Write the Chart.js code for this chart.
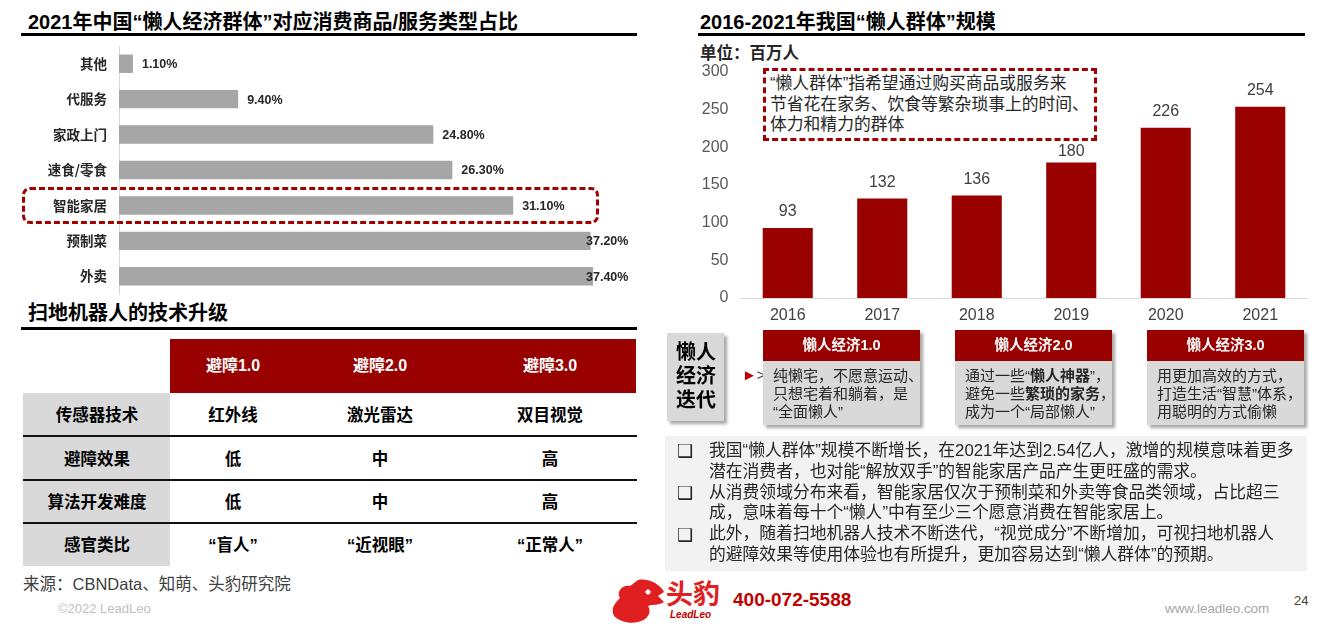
<!DOCTYPE html>
<html><head><meta charset="utf-8">
<script src="https://cdn.jsdelivr.net/npm/chart.js@4.4.0/dist/chart.umd.min.js"></script>
<style>
body{margin:0;width:1335px;height:626px;background:#fff;position:relative;overflow:hidden;font-family:"Liberation Sans","Noto Sans CJK SC",sans-serif;color:#262626;}
.a{position:absolute;white-space:nowrap;}
.title{font-size:20px;font-weight:bold;color:#000;line-height:20px;}
.rule{position:absolute;height:3px;background:#000;}
.th{position:absolute;color:#fff;font-weight:bold;font-size:16px;line-height:20px;text-align:center;transform:translateX(-50%);white-space:nowrap;}
.td{position:absolute;font-weight:bold;font-size:16.5px;line-height:20px;text-align:center;transform:translateX(-50%);color:#000;white-space:nowrap;}
.hl{position:absolute;left:23px;width:614px;height:2px;background:#111;}
.card{position:absolute;width:157px;box-shadow:3px 3px 3px rgba(0,0,0,0.35);}
.card .h{height:31px;background:#990000;color:#fff;font-weight:bold;font-size:14.5px;line-height:31px;text-align:center;}
.card .b{height:64px;background:#D9D9D9;font-size:15px;line-height:18px;padding:6px 0 0 10px;box-sizing:border-box;color:#262626;white-space:nowrap;}
.bl{font-size:16.8px;line-height:20.8px;color:#262626;}
</style></head><body>
<div class="a title" style="left:28px;top:12px;">2021年中国“懒人经济群体”对应消费商品/服务类型占比</div>
<div class="rule" style="left:21px;top:33px;width:616px;"></div>
<div class="a" style="left:0;top:44px;width:660px;height:254px;"><canvas id="c1" width="660" height="254"></canvas></div>
<div class="a" style="left:22px;top:187px;width:571px;height:31px;border:3px dashed #A00000;border-radius:8px;"></div>

<div class="a title" style="left:28px;top:303px;">扫地机器人的技术升级</div>
<div class="rule" style="left:21px;top:327px;width:616px;"></div>
<div class="a" style="left:170px;top:339px;width:466px;height:54px;background:#990000;"></div>
<div class="a" style="left:23px;top:393px;width:147px;height:173px;background:#D9D9D9;"></div>
<div id="tbl"></div>

<div class="a" style="left:23px;top:574px;font-size:16.5px;line-height:20px;color:#404040;">来源：CBNData、知萌、头豹研究院</div>
<div class="a" style="left:58px;top:601px;font-size:13px;line-height:16px;color:#BFBFBF;">©2022 LeadLeo</div>

<svg class="a" style="left:608px;top:576px;" width="60" height="50" viewBox="0 0 60 50">
<path d="M30 4 C40 2 52 8 56 16 L50 20 L56 26 C50 30 44 28 40 30 C44 36 40 44 30 46 C22 48 12 46 6 40 C2 32 8 26 12 22 C8 16 14 8 22 10 Z" fill="#E02020"/>
<circle cx="40" cy="16" r="2.5" fill="#fff"/>
</svg>
<div class="a" style="left:666px;top:580px;font-size:27px;font-weight:bold;color:#E02020;line-height:30px;">头豹</div>
<div class="a" style="left:670px;top:609px;font-size:10px;font-style:italic;font-weight:bold;color:#C00000;line-height:12px;">LeadLeo</div>
<div class="a" style="left:733px;top:589px;font-size:19px;font-weight:bold;color:#C00000;line-height:22px;">400-072-5588</div>
<div class="a" style="left:1165px;top:602px;font-size:13.4px;color:#A6A6A6;line-height:14px;">www.leadleo.com</div>
<div class="a" style="left:1294px;top:594px;font-size:13px;color:#404040;line-height:14px;">24</div>

<div class="a title" style="left:700px;top:12px;">2016-2021年我国“懒人群体”规模</div>
<div class="rule" style="left:698px;top:33px;width:607px;"></div>
<div class="a" style="left:700px;top:44px;font-size:16.5px;font-weight:bold;line-height:18px;color:#262626;">单位：百万人</div>
<div class="a" style="left:763px;top:68px;width:328px;height:67px;border:3px dashed #A00000;"></div>
<div class="a" style="left:770px;top:74px;font-size:16.8px;line-height:20.5px;color:#262626;">“懒人群体”指希望通过购买商品或服务来<br>节省花在家务、饮食等繁杂琐事上的时间、<br>体力和精力的群体</div>
<div class="a" style="left:660px;top:60px;width:675px;height:270px;"><canvas id="c2" width="675" height="270"></canvas></div>

<div class="a" style="left:667px;top:333px;width:57px;height:88px;background:#D9D9D9;box-shadow:3px 3px 3px rgba(0,0,0,0.35);"></div>
<div class="a" style="left:676px;top:340px;font-size:20px;font-weight:bold;line-height:24px;color:#000;">懒人<br>经济<br>迭代</div>
<div class="a" style="left:742px;top:366px;font-size:15px;color:#C00000;line-height:18px;">►<span style="color:#404040">&gt;</span></div>
<div class="card" style="left:763px;top:330px;"><div class="h">懒人经济1.0</div><div class="b">纯懒宅，不愿意运动、<br>只想宅着和躺着，是<br>“全面懒人”</div></div>
<div class="card" style="left:955px;top:330px;"><div class="h">懒人经济2.0</div><div class="b">通过一些“<b>懒人神器</b>”，<br>避免一些<b>繁琐的家务</b>，<br>成为一个“局部懒人”</div></div>
<div class="card" style="left:1147px;top:330px;"><div class="h">懒人经济3.0</div><div class="b">用更加高效的方式，<br>打造生活“智慧”体系，<br>用聪明的方式偷懒</div></div>

<div class="a" style="left:665px;top:436px;width:642px;height:135px;background:#F2F2F2;"></div>
<div class="a bl" style="left:677px;top:441px;font-size:18px;">❑</div>
<div class="a bl" style="left:677px;top:483px;font-size:18px;">❑</div>
<div class="a bl" style="left:677px;top:525px;font-size:18px;">❑</div>
<div class="a bl" style="left:709px;top:441px;">我国“懒人群体”规模不断增长，在2021年达到2.54亿人，激增的规模意味着更多<br>潜在消费者，也对能“解放双手”的智能家居产品产生更旺盛的需求。<br>从消费领域分布来看，智能家居仅次于预制菜和外卖等食品类领域，占比超三<br>成，意味着每十个“懒人”中有至少三个愿意消费在智能家居上。<br>此外，随着扫地机器人技术不断迭代，“视觉成分”不断增加，可视扫地机器人<br>的避障效果等使用体验也有所提升，更加容易达到“懒人群体”的预期。</div>

<script>
// ---- Data ----
const shareCategories = ["其他","代服务","家政上门","速食/零食","智能家居","预制菜","外卖"];
const shareValues = [1.1, 9.4, 24.8, 26.3, 31.1, 37.2, 37.4];
const years = ["2016","2017","2018","2019","2020","2021"];
const lazyPopulation = [93, 132, 136, 180, 226, 254];
const yTicks = [0, 50, 100, 150, 200, 250, 300];
const tableHeaders = ["避障1.0","避障2.0","避障3.0"];
const tableRowLabels = ["传感器技术","避障效果","算法开发难度","感官类比"];
const tableCells = [["红外线","激光雷达","双目视觉"],["低","中","高"],["低","中","高"],["“盲人”","“近视眼”","“正常人”"]];

// ---- Table (HTML) ----
(function(){
  const colX = [97, 233, 380, 550];
  const rowY = [405, 449, 492, 535];
  let h = '';
  tableHeaders.forEach((t,i)=>{ h += `<div class="th" style="left:${colX[i+1]}px;top:356px;">${t}</div>`; });
  tableRowLabels.forEach((r,ri)=>{
    h += `<div class="td" style="left:${colX[0]}px;top:${rowY[ri]}px;">${r}</div>`;
    tableCells[ri].forEach((c,ci)=>{ h += `<div class="td" style="left:${colX[ci+1]}px;top:${rowY[ri]}px;">${c}</div>`; });
  });
  [435,479,522].forEach(y=>{ h += `<div class="hl" style="top:${y}px;"></div>`; });
  document.getElementById('tbl').innerHTML = h;
})();

const numFont = "'Liberation Sans',sans-serif";
function zeroPad(s){ s.paddingTop = 0; s.paddingBottom = 0; s.paddingLeft = 0; s.paddingRight = 0; }

// ---- Left horizontal bar chart ----
const barLabels1 = {
  id:'barLabels1',
  afterDatasetsDraw(chart){
    const ctx = chart.ctx; const meta = chart.getDatasetMeta(0);
    ctx.save();
    ctx.font = "bold 12.5px " + numFont;
    ctx.fillStyle = '#262626'; ctx.textBaseline = 'middle'; ctx.textAlign='left';
    meta.data.forEach((el,i)=>{
      const x = Math.min(el.x + 9, 586);
      ctx.fillText(shareValues[i].toFixed(2) + '%', x, el.y + 1);
    });
    ctx.restore();
  }
};
new Chart(document.getElementById('c1'), {
  type:'bar',
  data:{ labels: shareCategories, datasets:[{ data: shareValues, backgroundColor:'#A6A6A6', barPercentage:0.52, categoryPercentage:1 }]},
  options:{
    indexAxis:'y', responsive:false, animation:false,
    layout:{ padding:{ top:2, bottom:4, right:34, left:0 } },
    plugins:{ legend:{display:false}, tooltip:{enabled:false} },
    scales:{
      x:{ display:false, min:0, max:40 },
      y:{ afterFit(s){ s.width = 119; zeroPad(s); },
          grid:{ display:false, drawTicks:false, tickLength:0 }, border:{ display:true, color:'#D9D9D9', width:1 },
          ticks:{ color:'#262626', padding:12, font:{ size:13.5, weight:'bold', family:"'Noto Sans CJK SC',sans-serif" } } }
    }
  },
  plugins:[barLabels1]
});

// ---- Right vertical bar chart ----
// note box (dashed) occupies canvas x 103..437, bottom at canvas y 80: keep labels clear of it
const barLabels2 = {
  id:'barLabels2',
  afterDatasetsDraw(chart){
    const ctx = chart.ctx; const meta = chart.getDatasetMeta(0);
    ctx.save();
    ctx.font = "16px " + numFont;
    ctx.fillStyle = '#404040'; ctx.textBaseline = 'middle'; ctx.textAlign='center';
    meta.data.forEach((el,i)=>{
      let y = el.y - 16;
      if (el.x > 103 && el.x < 437) y = Math.max(y, 92);
      ctx.fillText(String(lazyPopulation[i]), el.x, y);
    });
    ctx.restore();
  }
};
new Chart(document.getElementById('c2'), {
  type:'bar',
  data:{ labels: years, datasets:[{ data: lazyPopulation, backgroundColor:'#990000', barPercentage:0.53, categoryPercentage:1 }]},
  options:{
    responsive:false, animation:false,
    layout:{ padding:{ top:12, bottom:0, right:27.5, left:0 } },
    plugins:{ legend:{display:false}, tooltip:{enabled:false} },
    scales:{
      x:{ afterFit(s){ s.height = 32; zeroPad(s); }, grid:{ display:false, drawTicks:false, tickLength:0 }, border:{ display:true, color:'#D9D9D9', width:1 },
          ticks:{ color:'#404040', padding:8, font:{ size:16, family:numFont } } },
      y:{ min:0, max:300, afterFit(s){ s.width = 80.5; zeroPad(s); },
          afterBuildTicks(s){ s.ticks = yTicks.map(v=>({value:v})); },
          grid:{ display:false, drawTicks:false, tickLength:0 }, border:{ display:false },
          ticks:{ color:'#595959', padding:12, font:{ size:16, family:numFont } } }
    }
  },
  plugins:[barLabels2]
});
</script>
</body></html>
